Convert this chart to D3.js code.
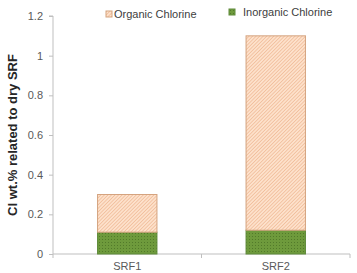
<!DOCTYPE html>
<html>
<head>
<meta charset="utf-8"/>
<script src="https://cdn.jsdelivr.net/npm/d3@7"></script>
<style>
body { margin: 0; background: #fff; }
text { font-family: Arial, "Liberation Sans", sans-serif; }
.axis text { font-size: 11px; fill: #595959; }
.axis path, .axis line { stroke: #bfbfbf; }
</style>
</head>
<body>
<svg width="357" height="273"></svg>
<script>
var categories = ["SRF1", "SRF2"];
var inorganic = [0.11, 0.12];
var organic = [0.19, 0.98];
var yTicks = [0, 0.2, 0.4, 0.6, 0.8, 1, 1.2];
var seriesNames = ["Organic Chlorine", "Inorganic Chlorine"];

var svg = d3.select("svg"),
    margin = {top: 16, right: 7, bottom: 19, left: 53},
    width = 357 - margin.left - margin.right,
    height = 273 - margin.top - margin.bottom;

var defs = svg.append("defs");

// diagonal hatch for organic
var hatch = defs.append("pattern")
    .attr("id", "hatch")
    .attr("patternUnits", "userSpaceOnUse")
    .attr("width", 2.5).attr("height", 2.5)
    .attr("patternTransform", "rotate(45)");
hatch.append("rect").attr("width", 2.5).attr("height", 2.5).attr("fill", "#fde1cb");
hatch.append("line").attr("x1", 0).attr("y1", 0).attr("x2", 0).attr("y2", 2.5)
    .attr("stroke", "#eaa97e").attr("stroke-width", 1);

// dotted pattern for inorganic
var dots = defs.append("pattern")
    .attr("id", "dots")
    .attr("patternUnits", "userSpaceOnUse")
    .attr("width", 3).attr("height", 3);
dots.append("rect").attr("width", 3).attr("height", 3).attr("fill", "#6e9a3c");
dots.append("rect").attr("x", 1).attr("y", 1).attr("width", 1).attr("height", 1).attr("fill", "#527a2a");

var g = svg.append("g").attr("transform", "translate(" + margin.left + "," + margin.top + ")");

var x = d3.scaleBand().domain(categories).range([0, width]).paddingInner(0.6).paddingOuter(0.3);
var xAxisScale = d3.scaleBand().domain(categories).range([0, width]);
var y = d3.scaleLinear().domain([0, 1.2]).range([height, 0]);

// y axis
g.append("g").attr("class", "axis")
    .call(d3.axisLeft(y).tickValues(yTicks).tickSize(4).tickPadding(6)
      .tickFormat(function(d) { return d3.format("~g")(d); }))
    .call(function(a) { a.select(".domain").attr("d", "M-4,0H0V" + height); });

// x axis
var xa = g.append("g").attr("class", "axis")
    .attr("transform", "translate(0," + height + ")");
xa.append("path").attr("d", "M0,0H" + width).attr("stroke", "#bfbfbf").attr("fill", "none");
xa.selectAll("line.tk").data([0, width / 2, width]).enter().append("line")
    .attr("x1", function(d) { return d; }).attr("x2", function(d) { return d; })
    .attr("y1", 0).attr("y2", 4).attr("stroke", "#bfbfbf");
xa.selectAll("text").data(categories).enter().append("text")
    .attr("x", function(d) { return xAxisScale(d) + xAxisScale.bandwidth() / 2; })
    .attr("y", 16).attr("text-anchor", "middle").text(function(d) { return d; });

// stacked bars
var rows = categories.map(function(c, i) { return {cat: c, inorganic: inorganic[i], organic: organic[i]}; });
var stack = d3.stack().keys(["inorganic", "organic"])(rows);
var fills = {inorganic: "url(#dots)", organic: "url(#hatch)"};
var strokes = {inorganic: "#5f8a3a", organic: "#d4a37f"};

stack.forEach(function(s) {
  g.selectAll(".bar-" + s.key).data(s).enter().append("rect")
      .attr("x", function(d) { return x(d.data.cat); })
      .attr("width", x.bandwidth())
      .attr("y", function(d) { return y(d[1]); })
      .attr("height", function(d) { return y(d[0]) - y(d[1]); })
      .attr("fill", fills[s.key])
      .attr("stroke", strokes[s.key])
      .attr("stroke-width", 1);
});

// y label
svg.append("text")
    .attr("transform", "translate(17,135) rotate(-90)")
    .attr("text-anchor", "middle")
    .style("font-size", "13px").style("font-weight", "bold").attr("fill", "#262626")
    .text("Cl wt.% related to dry SRF");

// legend
var leg = [
  {name: seriesNames[0], fill: "url(#hatch)", stroke: "#d4a37f", x: 106, y: 11},
  {name: seriesNames[1], fill: "url(#dots)", stroke: "#5f8a3a", x: 229, y: 9}
];
var lg = svg.selectAll(".leg").data(leg).enter().append("g")
    .attr("transform", function(d) { return "translate(" + d.x + "," + d.y + ")"; });
lg.append("rect").attr("width", 6).attr("height", 6)
    .attr("fill", function(d) { return d.fill; })
    .attr("stroke", function(d) { return d.stroke; });
lg.append("text").attr("x", function(d, i) { return i ? 14 : 8; }).attr("y", 7)
    .style("font-size", "11px").attr("fill", "#404040")
    .text(function(d) { return d.name; });
</script>
</body>
</html>
